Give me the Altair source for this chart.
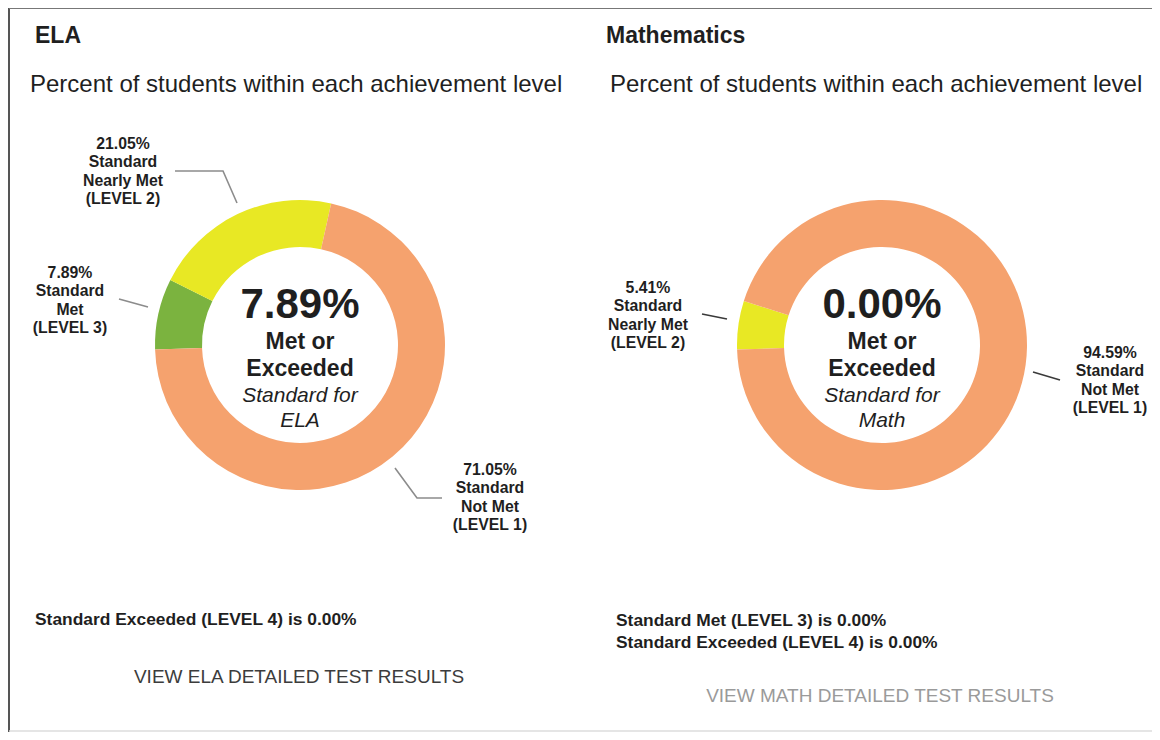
import math
import altair as alt
import pandas as pd

# ---------------- data ----------------
levels = [
    "Standard Exceeded (LEVEL 4)",
    "Standard Met (LEVEL 3)",
    "Standard Nearly Met (LEVEL 2)",
    "Standard Not Met (LEVEL 1)",
]
level_short = ["Exceeded", "Met", "Nearly Met", "Not Met"]
level_tag = ["(LEVEL 4)", "(LEVEL 3)", "(LEVEL 2)", "(LEVEL 1)"]
level_colors = ["#3F8F3F", "#7BB33F", "#E8E824", "#F5A26E"]

ela_pct = [0.00, 7.89, 21.05, 71.05]
math_pct = [0.00, 0.00, 5.41, 94.59]

subjects = ["ELA", "Mathematics"]
subject_short = ["ELA", "Math"]
subtitle = "Percent of students within each achievement level"
link_texts = ["VIEW ELA DETAILED TEST RESULTS", "VIEW MATH DETAILED TEST RESULTS"]

# ---------------- layout (reference pixel coordinates) ----------------
FONT = "Liberation Sans"
TEXT = "#1f1f1f"
W, H = 1144, 724
xs = alt.Scale(domain=[8, 8 + W], range=[0, W])
ys = alt.Scale(domain=[8, 8 + H], range=[0, H])
centers = [(300, 345), (882, 345)]
R_OUT, R_IN = 145, 98
title_pos = [(35, 36), (606, 36)]
subtitle_pos = [(30, 85), (610, 85)]
label_pos = [
    {1: (70, 273), 2: (123, 144), 3: (490, 470)},
    {2: (648, 288), 3: (1110, 353)},
]
LINE_STEP = 18.4
LABEL_SIZE = 15.8
leader_pts = [
    {1: [(119, 299), (148, 307)], 2: [(175, 171), (223, 171), (237, 203)],
     3: [(395, 468), (417, 498), (442, 498)]},
    {2: [(702, 314), (727, 319)], 3: [(1033, 372), (1060, 380)]},
]
leader_colors = ["#8c8c8c", "#3a3a3a"]
note_pos = [(35, 620), (616, 621)]
NOTE_STEP = 22
NOTE_SIZE = 17.4
link_pos = [(299, 677), (880, 696)]
LINK_SIZE = 19
link_colors = ["#3c3c3c", "#9a9a9a"]
center_offsets = [(-40, 42, "bold", "normal"), (-3, 23, "bold", "normal"),
                  (24, 23, "bold", "normal"), (51, 21, "normal", "italic"),
                  (76, 21, "normal", "italic")]


def xenc(f="x"):
    return alt.X(f"{f}:Q", scale=xs, axis=None)


def yenc(f="y"):
    return alt.Y(f"{f}:Q", scale=ys, axis=None)


layers = []

# ---- frame ----
frame = [((9, 7, 9, 732), "#555555", 2), ((9, 8, 1152, 8), "#777777", 2),
         ((9, 731, 1152, 731), "#dddddd", 1.5)]
for (x1, y1, x2, y2), col, sw in frame:
    fdf = pd.DataFrame({"x": [x1], "y": [y1], "x2": [x2], "y2": [y2]})
    layers.append(alt.Chart(fdf).mark_rule(color=col, strokeWidth=sw).encode(
        x=xenc(), y=yenc(), x2="x2:Q", y2="y2:Q"))

# ---- donuts ----
for pcts, (cx, cy) in zip([ela_pct, math_pct], centers):
    df = pd.DataFrame({"level": levels, "pct": pcts, "rank": list(range(4)),
                       "cx": cx, "cy": cy})
    total = sum(pcts)
    arc = alt.Chart(df).transform_window(
        cum="sum(pct)", sort=[alt.SortField("rank", order="ascending")], frame=[None, 0]
    ).transform_calculate(start="datum.cum - datum.pct").mark_arc(
        innerRadius=R_IN, outerRadius=R_OUT
    ).encode(
        x=xenc("cx"), y=yenc("cy"),
        theta=alt.Theta("start:Q", scale=alt.Scale(domain=[0, total],
                                                   range=[1.49 * math.pi, 3.49 * math.pi])),
        theta2="cum:Q",
        color=alt.Color("level:N", scale=alt.Scale(domain=levels, range=level_colors),
                        legend=None),
    )
    layers.append(arc)

# ---- text helpers ----
def text_layer(rows, align, weight="normal", style="normal", color=TEXT):
    tdf = pd.DataFrame(rows, columns=["text", "x", "y", "size"])
    return alt.Chart(tdf).mark_text(
        align=align, baseline="middle", font=FONT, fontWeight=weight,
        fontStyle=style, color=color
    ).encode(x=xenc(), y=yenc(), text="text:N",
             size=alt.Size("size:Q", scale=None, legend=None))


bold_left, reg_left, bold_center, ital_center = [], [], [], []

for i, pcts in enumerate([ela_pct, math_pct]):
    tx, ty = title_pos[i]
    bold_left.append((subjects[i], tx, ty, 23))
    sx, sy = subtitle_pos[i]
    reg_left.append((subtitle, sx, sy, 24))

    # center text
    cx, cy = centers[i]
    met = pcts[0] + pcts[1]
    center_lines = [f"{met:.2f}%", "Met or", "Exceeded", "Standard for", subject_short[i]]
    for txt, (dy, size, w, st) in zip(center_lines, center_offsets):
        if st == "italic":
            ital_center.append((txt, cx, cy + dy, size))
        else:
            bold_center.append((txt, cx, cy + dy, size))

    # segment labels
    for lvl, (lx, ly) in label_pos[i].items():
        lines = [f"{pcts[lvl]:.2f}%", "Standard", level_short[lvl], level_tag[lvl]]
        for k, txt in enumerate(lines):
            bold_center.append((txt, lx, ly + k * LINE_STEP, LABEL_SIZE))

    # notes for zero levels
    nx, ny = note_pos[i]
    zero = [levels[k] for k in range(len(levels) - 1, -1, -1) if pcts[k] == 0]
    for k, lv in enumerate(zero):
        bold_left.append((f"{lv} is {pcts[levels.index(lv)]:.2f}%", nx, ny + k * NOTE_STEP,
                          NOTE_SIZE))

    # leader lines
    segs = []
    for lvl, pts in leader_pts[i].items():
        for j, (px, py) in enumerate(pts):
            segs.append({"seg": lvl, "pt": j, "x": px, "y": py})
    layers.append(alt.Chart(pd.DataFrame(segs)).mark_line(
        color=leader_colors[i], strokeWidth=1.6
    ).encode(x=xenc(), y=yenc(), detail="seg:N", order="pt:Q"))

    # link
    lx, ly = link_pos[i]
    layers.append(text_layer([(link_texts[i], lx, ly, LINK_SIZE)], "center",
                             color=link_colors[i]))

layers.append(text_layer(bold_left, "left", weight="bold"))
layers.append(text_layer(reg_left, "left"))
layers.append(text_layer(bold_center, "center", weight="bold"))
layers.append(text_layer(ital_center, "center", style="italic"))

chart = alt.layer(*layers).resolve_scale(theta="independent").properties(
    width=W, height=H, autosize=alt.AutoSizeParams(type="none"), padding=0,
    background="white"
).configure_view(stroke=None)

chart.save("out.html", embed_options={"renderer": "svg", "actions": False})
